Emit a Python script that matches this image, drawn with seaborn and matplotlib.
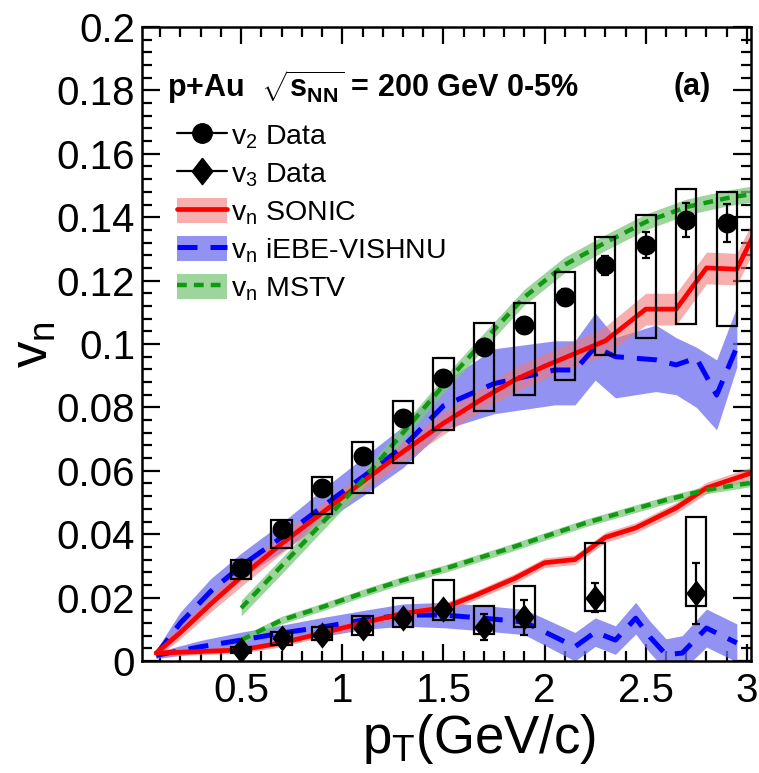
import numpy as np
import matplotlib
matplotlib.use("Agg")
import matplotlib.pyplot as plt
from matplotlib.patches import Rectangle, Patch
from matplotlib.lines import Line2D
from matplotlib.markers import MarkerStyle
import seaborn as sns

# ---------------- PHENIX p+Au 0-5%: measured v2 ----------------
v2_pt = [0.5, 0.7, 0.9, 1.1, 1.3, 1.5, 1.7, 1.9, 2.1, 2.3, 2.5, 2.7, 2.9]
v2_val = [0.0293, 0.0416, 0.0546, 0.0647, 0.0767, 0.0893, 0.0990, 0.1060,
          0.1148, 0.1249, 0.1312, 0.1390, 0.1382]
v2_stat = [0.0005, 0.0006, 0.0008, 0.0010, 0.0012, 0.0015, 0.0020, 0.0022,
           0.0025, 0.0030, 0.0042, 0.0054, 0.0060]
v2_sys_hi = [0.0319, 0.0445, 0.0580, 0.0690, 0.0820, 0.0956, 0.1066, 0.1130,
             0.1227, 0.1337, 0.1407, 0.1490, 0.1480]
v2_sys_lo = [0.0259, 0.0356, 0.0464, 0.0530, 0.0626, 0.0729, 0.0790, 0.0839,
             0.0886, 0.0965, 0.1019, 0.1063, 0.1057]

# ---------------- measured v3 ----------------
v3_pt = [0.5, 0.7, 0.9, 1.1, 1.3, 1.5, 1.7, 1.9, 2.25, 2.75]
v3_val = [0.0035, 0.0072, 0.0082, 0.0104, 0.0136, 0.0164, 0.0107, 0.0138,
          0.0199, 0.0214]
v3_stat = [0.0005, 0.0008, 0.0010, 0.0012, 0.0015, 0.0020, 0.0042, 0.0055,
           0.0046, 0.0096]
v3_sys_hi = [0.0045, 0.0091, 0.0107, 0.0142, 0.0199, 0.0256, 0.0174, 0.0237,
             0.0372, 0.0454]
v3_sys_lo = [0.0025, 0.0050, 0.0066, 0.0082, 0.0107, 0.0129, 0.0085, 0.0107,
             0.0158, 0.0174]

# ---------------- SONIC ----------------
sonic_v2_pt = [0.08, 0.2, 0.35, 0.5, 0.7, 0.9, 1.1, 1.3, 1.5, 1.7, 1.85, 2.0,
               2.15, 2.3, 2.5, 2.65, 2.8, 2.95, 3.03]
sonic_v2 = [0.0025, 0.0090, 0.0180, 0.0265, 0.0370, 0.0467, 0.0565, 0.0660,
            0.0750, 0.0830, 0.0886, 0.0930, 0.0970, 0.1010, 0.1110, 0.1110,
            0.1240, 0.1236, 0.1340]
sonic_v2_err = [0.0015, 0.002, 0.0025, 0.003, 0.003, 0.003, 0.003, 0.0032,
                0.0035, 0.0035, 0.004, 0.004, 0.004, 0.0045, 0.005, 0.005,
                0.005, 0.005, 0.005]

sonic_v3_pt = [0.08, 0.3, 0.5, 0.7, 0.9, 1.1, 1.3, 1.5, 1.65, 1.85, 2.0, 2.15,
               2.3, 2.45, 2.65, 2.8, 3.03]
sonic_v3 = [0.0025, 0.0030, 0.0035, 0.0057, 0.0088, 0.0120, 0.0150, 0.0168,
            0.0205, 0.0260, 0.0310, 0.0320, 0.0390, 0.0420, 0.0483, 0.0546,
            0.0595]
sonic_v3_err = [0.001, 0.001, 0.001, 0.0012, 0.0012, 0.0013, 0.0013, 0.0014,
                0.0014, 0.0015, 0.0015, 0.0015, 0.0016, 0.0016, 0.0017, 0.0018,
                0.0018]

# ---------------- iEBE-VISHNU ----------------
vishnu_v2_pt = [0.08, 0.2, 0.35, 0.5, 0.7, 0.9, 1.1, 1.3, 1.5, 1.75, 2.05,
                2.15, 2.25, 2.35, 2.55, 2.65, 2.75, 2.85, 2.95]
vishnu_v2 = [0.0020, 0.0120, 0.0220, 0.0300, 0.0390, 0.0486, 0.0580, 0.0675,
             0.0805, 0.0875, 0.0918, 0.0918, 0.0990, 0.0960, 0.0950, 0.0934,
             0.0956, 0.0839, 0.0990]
vishnu_v2_hi = [0.0035, 0.0155, 0.0260, 0.0340, 0.0435, 0.0540, 0.0640, 0.0740,
                0.0880, 0.0985, 0.1010, 0.1010, 0.1098, 0.1020, 0.1060, 0.1020,
                0.0990, 0.0950, 0.1117]
vishnu_v2_lo = [0.0008, 0.0085, 0.0180, 0.0260, 0.0345, 0.0435, 0.0520, 0.0610,
                0.0730, 0.0780, 0.0808, 0.0808, 0.0886, 0.0830, 0.0850, 0.0840,
                0.0800, 0.0729, 0.0927]

vishnu_v3_pt = [0.08, 0.3, 0.5, 0.7, 0.9, 1.1, 1.3, 1.5, 1.7, 1.9, 2.15, 2.25,
                2.35, 2.45, 2.52, 2.6, 2.68, 2.8, 2.95]
vishnu_v3 = [0.0018, 0.0045, 0.0066, 0.0088, 0.0107, 0.0129, 0.0145, 0.0145,
             0.0135, 0.0123, 0.0045, 0.0091, 0.0066, 0.0135, 0.0076, 0.0020,
             0.0025, 0.0104, 0.0057]
vishnu_v3_err = [0.001, 0.002, 0.0025, 0.0025, 0.003, 0.003, 0.0035, 0.004,
                 0.004, 0.004, 0.0045, 0.0045, 0.0045, 0.005, 0.005, 0.005,
                 0.0055, 0.006, 0.006]

# ---------------- MSTV ----------------
mstv_v2_pt = [0.5, 0.7, 0.9, 1.1, 1.3, 1.5, 1.7, 1.9, 2.1, 2.3, 2.5, 2.7, 2.9,
              3.05]
mstv_v2 = [0.0167, 0.0300, 0.0435, 0.0570, 0.0720, 0.0870, 0.1010, 0.1148,
           0.1250, 0.1320, 0.1385, 0.1432, 0.1460, 0.1476]
mstv_v2_err = 0.0025

mstv_v3_pt = [0.5, 0.7, 0.9, 1.1, 1.3, 1.5, 1.8, 2.2, 2.6, 2.8, 3.05]
mstv_v3 = [0.0066, 0.0129, 0.0170, 0.0214, 0.0255, 0.0290, 0.0350, 0.0435,
           0.0508, 0.0540, 0.0565]
mstv_v3_err = 0.0012

# ---------------- style ----------------
sns.set_theme(style="ticks", rc={
    "text.color": "black", "axes.labelcolor": "black",
    "xtick.color": "black", "ytick.color": "black",
    "axes.edgecolor": "black",
})
plt.rcParams["font.family"] = ["Liberation Sans", "DejaVu Sans"]
plt.rcParams["mathtext.fontset"] = "custom"
plt.rcParams["mathtext.rm"] = "Liberation Sans"
plt.rcParams["mathtext.it"] = "Liberation Sans:italic"
plt.rcParams["mathtext.bf"] = "Liberation Sans:bold"

RED, RED_BAND = "#ff0000", "#f07878"
BLUE, BLUE_BAND = "#0000ff", "#6e6ef0"
GREEN, GREEN_BAND = "#119911", "#7cc87c"

fig = plt.figure(figsize=(7.59, 7.73), dpi=100)
fig.patch.set_facecolor("white")
W, H = 759, 773
ax = fig.add_axes([142 / W, 1 - 661 / H, (751 - 142) / W, (661 - 27) / H])
ax.set_facecolor("white")


def band(x, lo, hi, color, alpha):
    ax.fill_between(x, lo, hi, color=color, alpha=alpha, lw=0, zorder=1)


def curve(x, y, color, lw, ls):
    sns.lineplot(x=x, y=y, ax=ax, color=color, lw=lw, linestyle=ls,
                 estimator=None, sort=False, legend=False, zorder=2)


# model bands
band(vishnu_v2_pt, vishnu_v2_lo, vishnu_v2_hi, BLUE_BAND, 0.75)
band(vishnu_v3_pt, np.array(vishnu_v3) - vishnu_v3_err,
     np.array(vishnu_v3) + vishnu_v3_err, BLUE_BAND, 0.75)
band(sonic_v2_pt, np.array(sonic_v2) - sonic_v2_err,
     np.array(sonic_v2) + sonic_v2_err, RED_BAND, 0.6)
band(sonic_v3_pt, np.array(sonic_v3) - sonic_v3_err,
     np.array(sonic_v3) + sonic_v3_err, RED_BAND, 0.6)
band(mstv_v2_pt, np.array(mstv_v2) - mstv_v2_err,
     np.array(mstv_v2) + mstv_v2_err, GREEN_BAND, 0.75)
band(mstv_v3_pt, np.array(mstv_v3) - mstv_v3_err,
     np.array(mstv_v3) + mstv_v3_err, GREEN_BAND, 0.75)

# model central curves
blue_ls = (0, (4.0, 2.6))
green_ls = (0, (2.2, 1.6))
curve(vishnu_v2_pt, vishnu_v2, BLUE, 3.6, blue_ls)
curve(vishnu_v3_pt, vishnu_v3, BLUE, 3.6, blue_ls)
curve(sonic_v2_pt, sonic_v2, RED, 3.4, "-")
curve(sonic_v3_pt, sonic_v3, RED, 3.4, "-")
curve(mstv_v2_pt, mstv_v2, GREEN, 3.2, green_ls)
curve(mstv_v3_pt, mstv_v3, GREEN, 3.2, green_ls)

# systematic boxes
for pts, lo, hi in ((v2_pt, v2_sys_lo, v2_sys_hi), (v3_pt, v3_sys_lo, v3_sys_hi)):
    for p, l, h in zip(pts, lo, hi):
        ax.add_patch(Rectangle((p - 0.05, l), 0.1, h - l, fill=False,
                               ec="black", lw=1.6, zorder=4))

# statistical errors and points
ax.errorbar(v2_pt, v2_val, yerr=v2_stat, fmt="none", ecolor="black",
            elinewidth=1.6, capsize=3, capthick=1.6, zorder=5)
ax.errorbar(v3_pt, v3_val, yerr=v3_stat, fmt="none", ecolor="black",
            elinewidth=1.6, capsize=3, capthick=1.6, zorder=5)
diamond = MarkerStyle([(0, 1), (0.78, 0), (0, -1), (-0.78, 0), (0, 1)])
sns.scatterplot(x=v2_pt, y=v2_val, ax=ax, marker="o", s=205, color="black",
                edgecolor="black", linewidth=0, zorder=6, legend=False)
sns.scatterplot(x=v3_pt, y=v3_val, ax=ax, marker=diamond, s=360, color="black",
                edgecolor="black", linewidth=0, zorder=6, legend=False)

# axes
ax.set_xlim(0.01, 3.02)
ax.set_ylim(0, 0.2)
xt = [0.5, 1, 1.5, 2, 2.5, 3]
ax.set_xticks(xt)
ax.set_xticklabels(["0.5", "1", "1.5", "2", "2.5", "3"])
yt = [0, 0.02, 0.04, 0.06, 0.08, 0.1, 0.12, 0.14, 0.16, 0.18, 0.2]
ax.set_yticks(yt)
ax.set_yticklabels(["0", "0.02", "0.04", "0.06", "0.08", "0.1", "0.12",
                    "0.14", "0.16", "0.18", "0.2"])
ax.set_xticks(np.arange(0.1, 3.01, 0.1), minor=True)
ax.set_yticks(np.arange(0.0, 0.2001, 0.004), minor=True)
ax.tick_params(which="both", direction="in", top=True, right=True,
               color="black", width=1.6)
ax.tick_params(axis="y", which="major", length=13, labelsize=29, pad=5)
ax.tick_params(axis="y", which="minor", length=7)
ax.tick_params(axis="x", which="major", length=12, labelsize=29, pad=8)
ax.tick_params(axis="x", which="minor", length=7)
for s in ax.spines.values():
    s.set_linewidth(1.8)
    s.set_color("black")
ax.set_xlabel("")
ax.set_ylabel("")

fig.text(479 / W, 1 - 753 / H, r"p$_{\rm T}$(GeV/c)", fontsize=38,
         ha="center", va="baseline")
fig.text(34 / W, 1 - 345 / H, r"v$_{\rm n}$", fontsize=38, rotation=90,
         ha="center", va="center")

# header
ax.text(0.041, 0.905, r"p+Au  $\sqrt{\mathbf{s}_{\mathbf{NN}}}$ = 200 GeV 0-5%",
        transform=ax.transAxes, fontsize=22, fontweight="bold",
        ha="left", va="center")
ax.text(0.903, 0.905, "(a)", transform=ax.transAxes, fontsize=22,
        fontweight="bold", ha="center", va="center")

# legend
handles = [
    Line2D([], [], color="black", lw=1.6, marker="o", markersize=14),
    Line2D([], [], color="black", lw=1.6, marker=diamond, markersize=19),
    (Patch(facecolor=RED_BAND, alpha=0.6, lw=0), Line2D([], [], color=RED, lw=3.4)),
    (Patch(facecolor=BLUE_BAND, alpha=0.75, lw=0),
     Line2D([], [], color=BLUE, lw=3.6, linestyle=blue_ls)),
    (Patch(facecolor=GREEN_BAND, alpha=0.75, lw=0),
     Line2D([], [], color=GREEN, lw=3.2, linestyle=green_ls)),
]
labels = [r"v$_{\rm 2}$ Data", r"v$_{\rm 3}$ Data", r"v$_{\rm n}$ SONIC",
          r"v$_{\rm n}$ iEBE-VISHNU", r"v$_{\rm n}$ MSTV"]
ax.legend(handles, labels, loc="upper left", bbox_to_anchor=(0.0575, 0.850),
          frameon=False, fontsize=20.5, handlelength=1.75, handleheight=0.95,
          labelspacing=0.33, handletextpad=0.15, borderpad=0, borderaxespad=0)

fig.savefig("out.png", dpi=100, facecolor="white")
